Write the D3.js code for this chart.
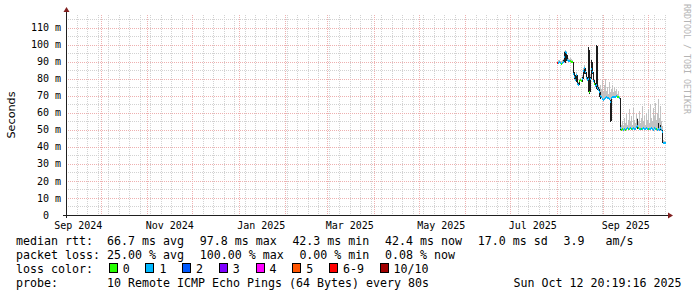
<!DOCTYPE html>
<html><head><meta charset="utf-8">
<script src="https://cdn.jsdelivr.net/npm/d3@7"></script>
<style>
html,body{margin:0;padding:0;background:#fff;}
svg{display:block;}
text{font-family:"DejaVu Sans Mono",monospace;white-space:pre;}
</style></head><body>
<svg id="c" width="697" height="297"></svg>
<script>
// ---------- data ----------
const endTime = "2025-10-12T20:19:16Z";
const spanDays = 400;
const firstSample = "2025-08-01T04:19:16Z";
const stepSeconds = 57600;

const medianMs = [
  89.0, 89.2, 89.5, 89.0, 88.6, 89.4, 90.0, 93.0, 95.5, 94.8,
  91.0, 90.6, 90.2, 90.5, 90.0, 89.5, 83.0, 81.0, 79.5, 82.0,
  77.0, 76.0, 78.5, 79.0, 78.5, 80.0, 84.5, 86.0, 84.0, 80.5,
  79.0, 80.0, 72.0, 80.0, 85.5, 84.0, 78.5, 77.0, 75.5, 76.5,
  74.5, 73.5, 72.0, 70.0, 69.0, 68.0, 67.5, 67.8, 68.5, 69.0,
  68.8, 68.5, 68.0, 66.5, 68.5, 69.0, 69.5, 69.0, 69.5, 69.8,
  69.5, 69.0, 68.5, 51.0, 50.0, 50.3, 50.0, 50.5, 50.0, 50.2,
  51.0, 50.5, 50.3, 50.8, 50.2, 50.5, 51.0, 50.5, 50.3, 51.5,
  52.0, 50.8, 50.5, 50.3, 50.2, 50.5, 50.8, 50.3, 50.5, 51.0,
  50.4, 50.2, 50.7, 50.5, 50.9, 50.3, 50.0, 51.0, 50.6, 50.2,
  49.8, 50.5, 50.0, 51.0, 50.0, 48.5, 42.5, 42.3, 42.4
];
const lossLevel = [
  6, 1, 1, 1, 0, 1, 1, 1, 1, 1,
  1, 1, 1, 0, 0, 0, 1, 1, 1, 1,
  1, 1, 0, 0, 0, 1, 1, 1, 1, 1,
  1, 1, 0, 1, 1, 1, 1, 0, 1, 1,
  1, 1, 1, 1, 1, 1, 1, 1, 1, 1,
  1, 1, 1, 1, 1, 1, 1, 1, 1, 1,
  0, 0, 1, 1, 0, 0, 1, 1, 0, 1,
  1, 0, 1, 1, 0, 1, 1, 1, 1, 1,
  1, 0, 1, 1, 0, 1, 1, 1, 1, 1,
  1, 0, 1, 1, 1, 1, 1, 1, 1, 0,
  1, 1, 1, 1, 1, 1, 1, 1, 1
];
const smokeMaxMs = [
  90.5, 90.7, 91.0, 90.5, 90.1, 91.0, 91.5, 96.0, 96.8, 96.0,
  92.5, 92.0, 91.7, 92.0, 91.5, 91.0, 85.0, 83.0, 81.5, 84.0,
  79.0, 78.0, 80.0, 80.5, 80.0, 82.0, 86.5, 88.0, 86.5, 83.0,
  81.0, 82.0, 75.0, 82.5, 88.0, 86.5, 81.0, 79.0, 77.5, 79.0,
  77.0, 76.0, 75.0, 76.0, 74.0, 79.0, 72.0, 76.0, 80.0, 73.0,
  75.0, 71.0, 78.0, 72.0, 74.0, 76.0, 72.0, 75.0, 73.0, 74.0,
  71.0, 73.0, 70.0, 53.0, 53.0, 55.0, 52.0, 57.0, 54.0, 60.0,
  53.0, 56.0, 62.0, 55.0, 58.0, 53.0, 63.0, 56.0, 54.0, 59.0,
  57.0, 55.0, 61.0, 54.0, 57.0, 64.0, 55.0, 58.0, 53.0, 60.0,
  56.0, 62.0, 54.0, 65.0, 57.0, 55.0, 63.0, 58.0, 66.0, 56.0,
  60.0, 68.0, 57.0, 64.0, 55.0, 52.0, 44.0, 43.5, 43.5
];
// dark (inner) smoke: sample index, low, high
const darkIndex = [6, 7, 8, 9, 10, 16, 17, 18, 19, 20, 21, 22, 25, 26, 27, 28, 29, 30, 31, 32,
                   33, 34, 35, 36, 37, 38, 39, 40, 41, 42, 43, 53, 54, 63, 80, 101, 103, 105];
const darkLowMs = [89.5, 89.5, 89.0, 90.5, 90.5, 82.0, 80.0, 79.0, 78.0, 76.0, 75.5, 76.0, 78.0, 80.0, 83.0, 83.0, 80.0, 78.5, 72.0, 71.0,
                   72.0, 80.0, 83.0, 78.0, 76.5, 75.0, 74.0, 73.5, 72.5, 69.0, 68.0, 54.5, 55.0, 50.0, 50.5, 50.0, 50.0, 42.5];
const darkHighMs = [91.0, 95.5, 96.0, 95.5, 94.0, 90.0, 84.0, 82.0, 83.0, 82.0, 77.5, 79.0, 81.0, 85.0, 87.0, 86.0, 84.0, 81.0, 98.5, 97.0,
                    81.0, 91.0, 90.0, 84.0, 79.0, 77.5, 99.5, 99.0, 75.0, 74.0, 72.0, 67.5, 68.0, 68.5, 56.5, 54.0, 53.0, 50.0];

const yMaxMs = 117.36;
const yTicksMs = [0, 10, 20, 30, 40, 50, 60, 70, 80, 90, 100, 110];
const yTickLabels = ["0\u00a0\u00a0", "10 m", "20 m", "30 m", "40 m", "50 m", "60 m", "70 m", "80 m", "90 m", "100 m", "110 m"];
const xTickMonths = ["2024-09-01", "2024-11-01", "2025-01-01", "2025-03-01", "2025-05-01", "2025-07-01", "2025-09-01"];
const xTickLabels = ["Sep 2024", "Nov 2024", "Jan 2025", "Mar 2025", "May 2025", "Jul 2025", "Sep 2025"];

const lossLabels = ["0", "1", "2", "3", "4", "5", "6-9", "10/10"];
const lossColors = ["#26ff00", "#00b8ff", "#0059ff", "#7e00ff", "#ff00ff", "#ff5500", "#ff0000", "#a10000"];

const legendRow1 = ["median rtt:  66.7 ms avg", "97.8 ms max", "42.3 ms min", "42.4 ms now", "17.0 ms sd", "3.9   am/s"];
const legendRow2 = ["packet loss: 25.00 % avg", "100.00 % max", "0.00 % min", "0.08 % now"];
const lossTitle = "loss color:";
const probeText = "probe:       10 Remote ICMP Echo Pings (64 Bytes) every 80s";
const dateText = "Sun Oct 12 20:19:16 2025";
const yAxisTitle = "Seconds";
const watermark = "RRDTOOL / TOBI OETIKER";

// ---------- layout ----------
const plot = {left: 66, top: 15, width: 600, height: 200};
const end = new Date(endTime);
const start = new Date(end.getTime() - spanDays * 864e5);
const t0 = new Date(firstSample);
const sampleTime = i => new Date(t0.getTime() + i * stepSeconds * 1000);

const x = d3.scaleUtc().domain([start, end]).range([plot.left, plot.left + plot.width]);
const y = d3.scaleLinear().domain([0, yMaxMs]).range([plot.top + plot.height, plot.top]);
const px = v => Math.round(v) + 0.5;

const svg = d3.select("#c");
svg.append("rect").attr("width", 697).attr("height", 297).attr("fill", "#fff");

const minorColor = "#d2d2d2", majorColor = "#eeb0b0";
const gGrid = svg.append("g").attr("stroke-dasharray", "1,1").attr("stroke-width", 1);

// horizontal grid
const yMinor = d3.range(5, yMaxMs, 10);
gGrid.selectAll(".hmin").data(yMinor).join("line")
  .attr("x1", plot.left).attr("x2", plot.left + plot.width)
  .attr("y1", d => px(y(d))).attr("y2", d => px(y(d))).attr("stroke", minorColor);
// vertical minor (weeks)
const weeks = d3.utcSunday.range(start, end);
gGrid.selectAll(".vmin").data(weeks).join("line")
  .attr("x1", d => px(x(d))).attr("x2", d => px(x(d)))
  .attr("y1", plot.top).attr("y2", plot.top + plot.height).attr("stroke", minorColor);
// major
gGrid.selectAll(".hmaj").data(yTicksMs.filter(v => v > 0)).join("line")
  .attr("x1", plot.left).attr("x2", plot.left + plot.width)
  .attr("y1", d => px(y(d))).attr("y2", d => px(y(d))).attr("stroke", majorColor);
const months = d3.utcMonth.range(start, end);
gGrid.selectAll(".vmaj").data(months).join("line")
  .attr("x1", d => px(x(d))).attr("x2", d => px(x(d)))
  .attr("y1", plot.top).attr("y2", plot.top + plot.height).attr("stroke", majorColor);

// ---------- data marks ----------
const gData = svg.append("g").attr("shape-rendering", "crispEdges");
const idx = d3.range(medianMs.length);
// light smoke
gData.selectAll(".smoke").data(idx).join("rect")
  .attr("x", i => x(sampleTime(i))).attr("width", i => x(sampleTime(i + 1)) - x(sampleTime(i)))
  .attr("y", i => y(smokeMaxMs[i])).attr("height", i => Math.max(0, y(medianMs[i]) - y(smokeMaxMs[i])))
  .attr("fill", "#c2c2c2");
// dark smoke
gData.selectAll(".dark").data(darkIndex).join("rect")
  .attr("x", (s) => x(sampleTime(s))).attr("width", s => x(sampleTime(s + 1)) - x(sampleTime(s)))
  .attr("y", (s, k) => y(darkHighMs[k])).attr("height", (s, k) => y(darkLowMs[k]) - y(darkHighMs[k]))
  .attr("fill", "#1c1c1c");
// median band coloured by loss
const band = yMaxMs / plot.height;
gData.selectAll(".med").data(idx).join("rect")
  .attr("x", i => x(sampleTime(i))).attr("width", i => x(sampleTime(i + 1)) - x(sampleTime(i)))
  .attr("y", i => y(medianMs[i] + band)).attr("height", i => y(medianMs[i] - band) - y(medianMs[i] + band))
  .attr("fill", i => lossColors[lossLevel[i]]);

// ---------- axes ----------
const axisColor = "#1f1f1f", arrowColor = "#801f1f";
const x0 = plot.left + 0.5, yb = plot.top + plot.height + 0.5;
svg.append("line").attr("x1", plot.left - 3).attr("x2", plot.left + plot.width + 4)
  .attr("y1", yb).attr("y2", yb).attr("stroke", axisColor);
svg.append("line").attr("x1", x0).attr("x2", x0)
  .attr("y1", plot.top + plot.height + 3).attr("y2", plot.top - 4).attr("stroke", axisColor);
const xr = plot.left + plot.width;
svg.append("path").attr("fill", arrowColor)
  .attr("d", `M${xr + 2},${yb - 3}L${xr + 7},${yb}L${xr + 2},${yb + 3}Z`);
svg.append("path").attr("fill", arrowColor)
  .attr("d", `M${x0 - 3},${plot.top - 3}L${x0},${plot.top - 8}L${x0 + 3},${plot.top - 3}Z`);

// y labels
svg.selectAll(".ylab").data(yTicksMs).join("text")
  .attr("x", 61).attr("y", d => y(d) + 3.6)
  .attr("text-anchor", "end").attr("font-size", "10px").attr("fill", "#000")
  .text((d, i) => yTickLabels[i]);
// x labels (centred in the month)
svg.selectAll(".xlab").data(xTickMonths).join("text")
  .attr("x", d => x(d3.utcDay.offset(new Date(d + "T00:00:00Z"), 15)))
  .attr("y", 228.5).attr("text-anchor", "middle").attr("font-size", "10px").attr("fill", "#000")
  .text((d, i) => xTickLabels[i]);

// y title
svg.append("text").attr("transform", "translate(14.5,115) rotate(-90)")
  .attr("text-anchor", "middle").attr("font-size", "11.2px")
  .style("font-family", "'DejaVu Sans',sans-serif").attr("fill", "#000").text(yAxisTitle);
// watermark
svg.append("text").attr("transform", "translate(684,4) rotate(90)")
  .attr("font-size", "8.3px").attr("fill", "#b4b4b4").text(watermark);

// ---------- legend ----------
const legFont = "11.63px", legLeft = 16, legGap = 15.7;
const rowBase = [245, 259, 273, 287];
function placeRow(items, baseline) {
  let cx = legLeft;
  items.forEach(s => {
    const t = svg.append("text").attr("x", cx).attr("y", baseline).attr("font-size", legFont).attr("fill", "#000").text(s);
    cx += t.node().getComputedTextLength() + legGap;
  });
}
placeRow(legendRow1, rowBase[0]);
placeRow(legendRow2, rowBase[1]);
{
  let cx = legLeft;
  const t = svg.append("text").attr("x", cx).attr("y", rowBase[2]).attr("font-size", legFont).text(lossTitle);
  cx += t.node().getComputedTextLength() + legGap;
  lossLabels.forEach((lab, k) => {
    svg.append("rect").attr("x", Math.round(cx) + 0.5).attr("y", rowBase[2] - 9.5)
      .attr("width", 8).attr("height", 9).attr("fill", lossColors[k]).attr("stroke", "#000");
    const tt = svg.append("text").attr("x", cx).attr("y", rowBase[2]).attr("font-size", legFont).text("  " + lab);
    cx += tt.node().getComputedTextLength() + legGap;
  });
}
svg.append("text").attr("x", legLeft).attr("y", rowBase[3]).attr("font-size", legFont).text(probeText);
svg.append("text").attr("x", 681.5).attr("y", rowBase[3]).attr("text-anchor", "end").attr("font-size", legFont).text(dateText);
</script>
</body></html>
